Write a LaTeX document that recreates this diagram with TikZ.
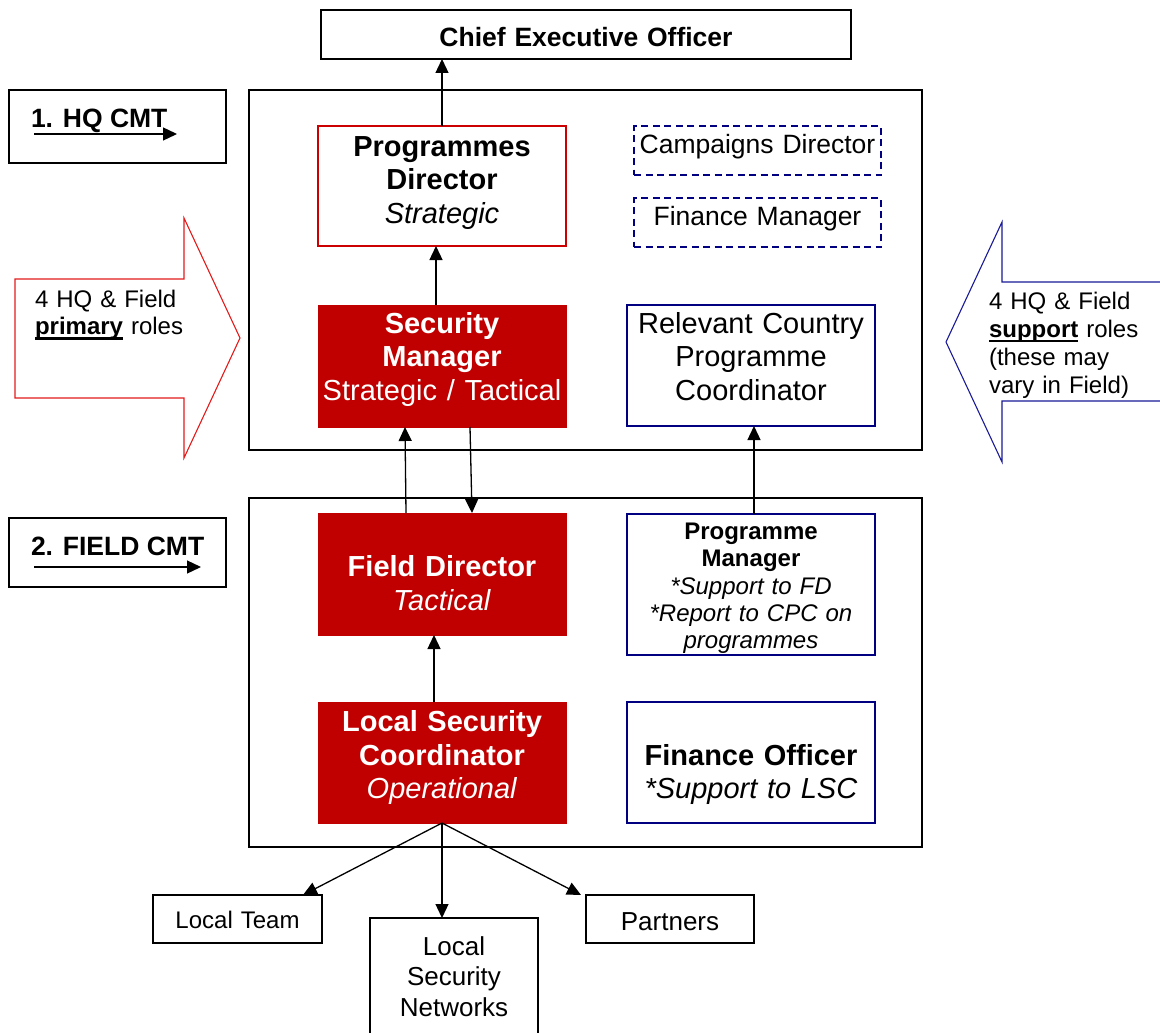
\documentclass[tikz,border=0pt]{standalone}
\usepackage{fontspec}
\setmainfont{Liberation Sans}
\usetikzlibrary{arrows.meta}
\definecolor{boxred}{HTML}{C00000}
\definecolor{linered}{HTML}{CC0000}
\definecolor{arrred}{HTML}{E41B1B}
\definecolor{navyb}{HTML}{000080}
\definecolor{arrblue}{HTML}{1A1A99}
\newcommand\myul[1]{\leavevmode\begingroup\setbox2=\hbox{#1}\hbox{\rlap{\rule[-5.4pt]{\wd2}{2.4pt}}\box2}\endgroup}
\begin{document}
\begin{tikzpicture}[x=1pt,y=-1pt,
  every node/.style={inner sep=0pt, outer sep=0pt},
  blackbox/.style={draw=black, line width=1.7pt, fill=white},
  redline/.style={draw=linered, line width=2pt, fill=white},
  redfill/.style={fill=boxred, draw=boxred, line width=1pt, text=white},
  bluebox/.style={draw=navyb, line width=2pt, fill=white},
  dashbox/.style={draw=navyb, line width=2pt, dash pattern=on 7pt off 4.5pt, fill=white},
  wbox/.style={minimum width=248pt, text width=248pt, align=center},
  fbig/.style={font=\fontsize{29}{33.5}\selectfont},
  fmid/.style={font=\fontsize{26.5}{30.5}\selectfont},
  fsmall/.style={font=\fontsize{24}{27.4}\selectfont},
  conn/.style={line width=1.3pt, -{Triangle[length=14pt,width=13pt]}},
  blockarrow/.style={line width=1.1pt, fill=white},
]
\fill[white] (0,0) rectangle (1160,1033);
\useasboundingbox (0,0) rectangle (1160,1033);

% block arrows
\draw[blockarrow, draw=arrred] (15,279) -- (184,279) -- (184,218) -- (240,338) -- (184,458) -- (184,398) -- (15,398) -- cycle;
\draw[blockarrow, draw=arrblue] (1180,282) -- (1002,282) -- (1002,222) -- (946,342) -- (1002,462) -- (1002,401) -- (1180,401);
\node[anchor=base west, text width=160pt, align=left, fsmall] (lat) at (35,307)
  {4 HQ \& Field\\\myul{\textbf{primary}} roles};
\node[anchor=base west, text width=170pt, align=left, font=\fontsize{24}{28}\selectfont] (rat) at (989,309)
  {4 HQ \& Field\\\myul{\textbf{support}} roles\\(these may\\vary in Field)};

% outer team boxes
\node[blackbox, minimum width=673pt, minimum height=360pt] (hq) at (585.5,270) {};
\node[blackbox, minimum width=673pt, minimum height=349pt] (field) at (585.5,672.5) {};

% side labels
\node[blackbox, minimum width=217pt, minimum height=73pt] (hqlab) at (117.5,126.5) {};
\node[anchor=base west, font=\fontsize{26.5}{30}\selectfont\bfseries] (hqlabt) at (31,127) {1. HQ CMT};
\coordinate (hqa1) at (34,134);
\coordinate (hqa2) at (177,134);
\draw[conn] (hqa1) -- (hqa2);

\node[blackbox, minimum width=217pt, minimum height=69pt] (fdlab) at (117.5,552.5) {};
\node[anchor=base west, font=\fontsize{26.5}{30}\selectfont\bfseries] (fdlabt) at (31,555) {2. FIELD CMT};
\coordinate (fa1) at (34,567);
\coordinate (fa2) at (201,567);
\draw[conn] (fa1) -- (fa2);

% CEO
\node[blackbox, minimum width=530pt, minimum height=49pt, text width=500pt, align=center, fmid,
  text height=24.4pt, text depth=0pt] (ceo) at (586,34.5) {\textbf{Chief Executive Officer}};

% HQ CMT
\node[redline, wbox, fbig, minimum height=120pt, text height=0pt, text depth=60pt] (pd) at (442,186)
  {\textbf{Programmes}\\\textbf{Director}\\\textit{Strategic}};
\node[redfill, wbox, fbig, minimum height=122pt, text height=0pt, text depth=65.4pt] (sm) at (442,366)
  {\textbf{Security}\\\textbf{Manager}\\Strategic / Tactical};
\node[dashbox, minimum width=247pt, minimum height=49pt, text width=247pt, align=center, fmid,
  text height=5pt, text depth=0pt] (cd) at (757.5,150.5) {Campaigns Director};
\node[dashbox, minimum width=247pt, minimum height=49pt, text width=247pt, align=center, fmid,
  text height=5pt, text depth=0pt] (fm) at (757.5,222.5) {Finance Manager};
\node[bluebox, wbox, fbig, minimum height=121pt, text height=0pt, text depth=64.4pt] (rcpc) at (751,365.5)
  {Relevant Country\\Programme\\Coordinator};

% FIELD CMT
\node[redfill, wbox, fbig, minimum height=122pt, text height=5.4pt, text depth=0pt] (fd) at (442,574)
  {\textbf{Field Director}\\\textit{Tactical}};
\node[redfill, wbox, fbig, minimum height=121pt, text height=0pt, text depth=61.6pt] (lsc) at (442,762.5)
  {\textbf{Local Security}\\\textbf{Coordinator}\\\textit{Operational}};
\node[bluebox, wbox, fsmall, minimum height=141pt, text height=0pt, text depth=90.4pt] (pm) at (751,584.5)
  {\textbf{Programme}\\\textbf{Manager}\\\textit{*Support to FD}\\\textit{*Report to CPC on}\\\textit{programmes}};
\node[bluebox, wbox, fbig, minimum height=121pt, text height=5pt, text depth=0pt] (fo) at (751,762.5)
  {\textbf{Finance Officer}\\\textit{*Support to LSC}};

% bottom
\node[blackbox, minimum width=169pt, minimum height=48pt, text width=169pt, align=center, fsmall,
  text height=18.6pt, text depth=0pt] (lt) at (237.5,919) {Local Team};
\node[blackbox, minimum width=168pt, minimum height=48pt, text width=168pt, align=center,
  font=\fontsize{26}{30.5}\selectfont, text height=22pt, text depth=0pt] (pa) at (670,919) {Partners};
\node[blackbox, minimum width=168pt, minimum height=130pt, text width=168pt, align=center,
  font=\fontsize{26}{30.5}\selectfont, text height=0pt, text depth=56pt] (lsn) at (454,983)
  {Local\\Security\\Networks};

% connectors
\draw[conn] (pd.north) -- (pd.north |- ceo.south);
\draw[conn] ([xshift=-6pt]sm.north) -- ([xshift=-6pt]pd.south);
\draw[conn] ([xshift=-36pt]fd.north) -- ([xshift=-37pt]sm.south);
\draw[conn] ([xshift=28pt]sm.south) -- ([xshift=30pt]fd.north);
\draw[conn] ([xshift=-8pt]lsc.north) -- ([xshift=-8pt]fd.south);
\draw[conn] ([xshift=3pt]pm.north) -- ([xshift=3pt]rcpc.south);
\draw[conn] (lsc.south) -- ([xshift=-19pt]lt.north east);
\draw[conn] (lsc.south) -- (lsc.south |- lsn.north);
\draw[conn] (lsc.south) -- ([xshift=-5pt]pa.north west);
\end{tikzpicture}
\end{document}
